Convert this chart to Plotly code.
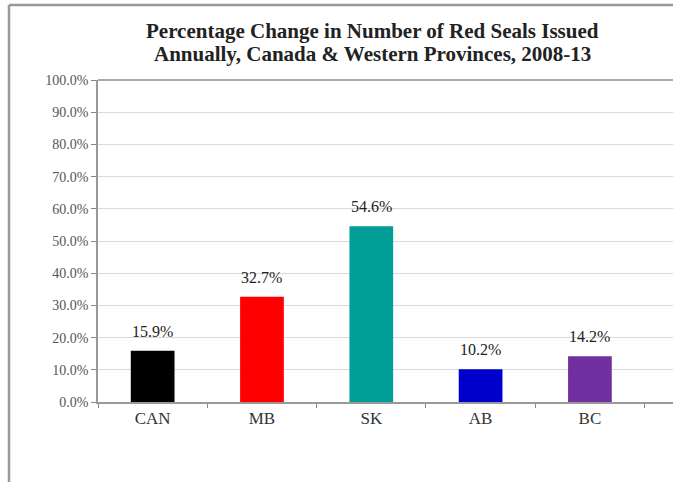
import plotly.graph_objects as go

categories = ["CAN", "MB", "SK", "AB", "BC"]
values = [15.9, 32.7, 54.6, 10.2, 14.2]
colors = ["#000000", "#FF0000", "#009E96", "#0000CC", "#7030A0"]
y_ticks = [0, 10, 20, 30, 40, 50, 60, 70, 80, 90, 100]
y_tick_labels = [f"{v:.1f}%" for v in y_ticks]
title_lines = ["Percentage Change in Number of Red Seals Issued",
               "Annually, Canada &amp; Western Provinces, 2008-13"]

W, H = 673, 482
L, R, T, B = 98, 0, 80, 80
pw, ph = W - L - R, H - T - B

def px(x):
    return (x - L) / pw

def py(y):
    return (H - B - y) / ph

serif = "Liberation Serif, Times New Roman, serif"

fig = go.Figure()
fig.add_trace(go.Bar(
    x=categories, y=values,
    marker=dict(color=colors, line=dict(width=0)),
    width=0.4,
    cliponaxis=False,
    hoverinfo="skip",
))

annotations = []
for c, v in zip(categories, values):
    annotations.append(dict(
        x=c, y=v, xref="x", yref="y", text=f"{v:.1f}%",
        showarrow=False, yanchor="bottom", xanchor="center", yshift=9,
        font=dict(family=serif, size=16, color="#222222"),
    ))
for line, yc in zip(title_lines, [31, 54]):
    annotations.append(dict(
        text="<b>" + line + "</b>",
        xref="paper", yref="paper", x=px(372), y=py(yc),
        xanchor="center", yanchor="middle", showarrow=False,
        font=dict(family=serif, size=21, color="#222222"),
    ))

fig.update_layout(
    width=W, height=H,
    margin=dict(l=L, r=R, t=T, b=B),
    paper_bgcolor="white", plot_bgcolor="white",
    showlegend=False,
    xaxis=dict(
        type="category", range=[-0.5, 4.76],
        tickson="boundaries", ticks="outside", ticklen=4, tickcolor="#888888",
        showline=True, linecolor="#999999", linewidth=1.5,
        showgrid=False,
        tickfont=dict(family=serif, size=17, color="#333333"),
    ),
    yaxis=dict(
        range=[0, 100], tickvals=y_ticks, ticktext=y_tick_labels,
        ticks="outside", ticklen=5, tickcolor="#888888",
        showline=True, linecolor="#999999", linewidth=1.5,
        showgrid=True, gridcolor="#DADADA", gridwidth=1,
        zeroline=False,
        tickfont=dict(family=serif, size=14, color="#555555"),
    ),
    annotations=annotations,
    shapes=[
        dict(type="line", xref="paper", yref="paper",
             x0=px(9), x1=1.02, y0=py(5), y1=py(5),
             line=dict(color="#999999", width=2.5)),
        dict(type="line", xref="paper", yref="paper",
             x0=px(9), x1=px(9), y0=py(5), y1=py(490),
             line=dict(color="#999999", width=2.5)),
        dict(type="line", xref="paper", yref="paper",
             x0=0, x1=1.02, y0=1, y1=1,
             line=dict(color="#AAAAAA", width=2)),
    ],
)

fig.write_html("out.html",
               config={"displayModeBar": False},
               post_script="document.body.style.margin='0';document.body.style.overflow='hidden';")
